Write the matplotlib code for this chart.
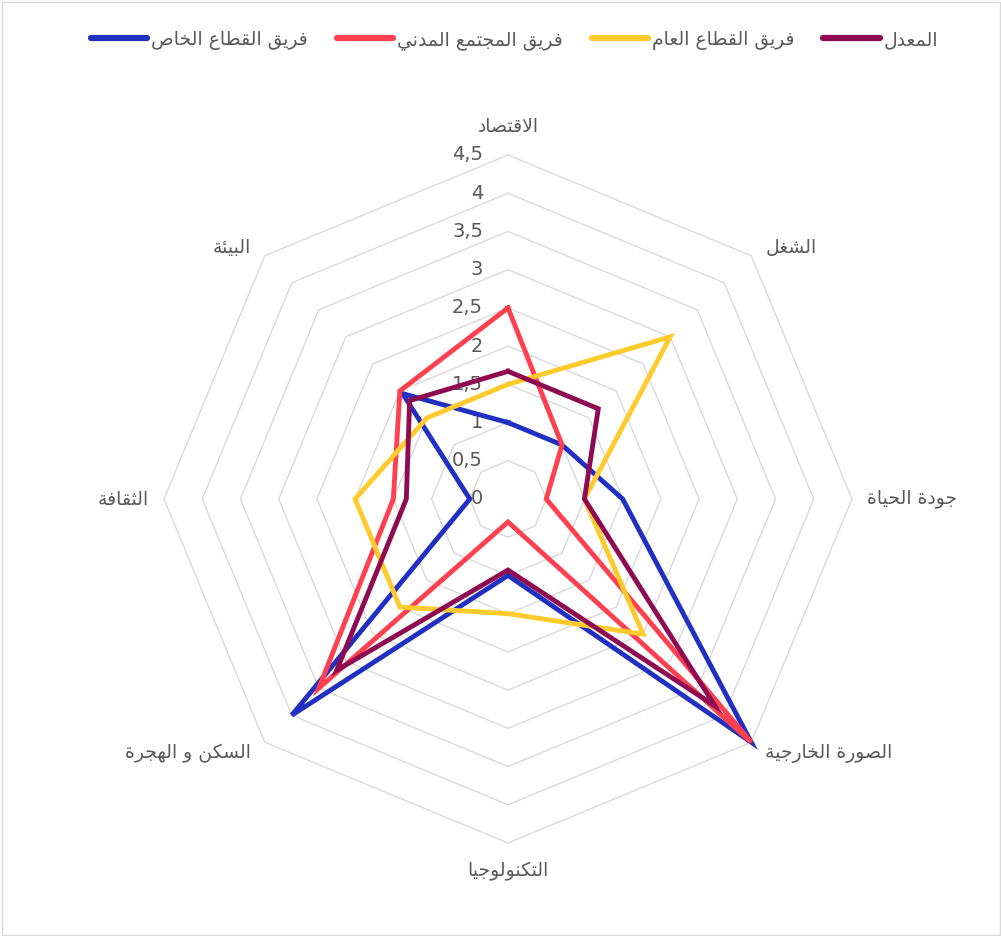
import numpy as np
import matplotlib
matplotlib.use("Agg")
import matplotlib.pyplot as plt
from matplotlib.lines import Line2D
from matplotlib.patches import Rectangle

# axis labels, clockwise from the top
categories = ["الاقتصاد", "الشغل", "جودة الحياة", "الصورة الخارجية",
              "التكنولوجيا", "السكن و الهجرة", "الثقافة", "البيئة"]

series_names = ["فريق القطاع الخاص", "فريق المجتمع المدني", "فريق القطاع العام", "المعدل"]
private = [1.0, 1.0, 1.5, 4.5, 1.0, 4.0, 0.5, 1.95]
civil = [2.5, 1.0, 0.5, 4.5, 0.3, 3.5, 1.5, 2.0]
public = [1.5, 3.0, 1.0, 2.5, 1.5, 2.0, 2.0, 1.5]
average = [1.67, 1.67, 1.0, 3.83, 0.93, 3.17, 1.33, 1.82]

ticks = [0, 0.5, 1, 1.5, 2, 2.5, 3, 3.5, 4, 4.5]
tick_labels = ["0", "0,5", "1", "1,5", "2", "2,5", "3", "3,5", "4", "4,5"]

colors = ["#2130C0", "#FF4050", "#FFCA2C", "#8E0B52"]

# matplotlib has no arabic shaping, so map letters to presentation forms by hand
DUAL = {'ب': 0xFE8F, 'ت': 0xFE95, 'ث': 0xFE99, 'ج': 0xFE9D, 'ح': 0xFEA1, 'خ': 0xFEA5,
        'س': 0xFEB1, 'ش': 0xFEB5, 'ص': 0xFEB9, 'ض': 0xFEBD, 'ط': 0xFEC1, 'ظ': 0xFEC5,
        'ع': 0xFEC9, 'غ': 0xFECD, 'ف': 0xFED1, 'ق': 0xFED5, 'ك': 0xFED9, 'ل': 0xFEDD,
        'م': 0xFEE1, 'ن': 0xFEE5, 'ه': 0xFEE9, 'ي': 0xFEF1, 'ئ': 0xFE89}
RIGHT = {'ا': 0xFE8D, 'ة': 0xFE93, 'د': 0xFEA9, 'ذ': 0xFEAB, 'ر': 0xFEAD, 'ز': 0xFEAF,
         'و': 0xFEED, 'ى': 0xFEEF, 'أ': 0xFE83, 'إ': 0xFE87, 'آ': 0xFE81}


def shape(s):
    chars = []
    i = 0
    while i < len(s):
        if s[i] == 'ل' and i + 1 < len(s) and s[i + 1] == 'ا':
            chars.append('LA')
            i += 2
        else:
            chars.append(s[i])
            i += 1
    out = []
    for k, c in enumerate(chars):
        prev = chars[k - 1] if k > 0 else None
        nxt = chars[k + 1] if k + 1 < len(chars) else None
        jp = prev in DUAL
        jn = c in DUAL and (nxt in DUAL or nxt in RIGHT or nxt == 'LA')
        if c == 'LA':
            out.append(chr(0xFEFC if jp else 0xFEFB))
        elif c in DUAL:
            out.append(chr(DUAL[c] + (3 if jp and jn else 1 if jp else 2 if jn else 0)))
        elif c in RIGHT:
            out.append(chr(RIGHT[c] + (1 if jp else 0)))
        else:
            out.append(c)
    return ''.join(reversed(out))


plt.rcParams['font.family'] = ['DejaVu Sans']
text_color = "#595959"

W, H = 1001, 936
fig = plt.figure(figsize=(W / 100, H / 100), dpi=100)
cx, cy, R = 508, 499, 344
ax = fig.add_axes([(cx - R) / W, (H - cy - R) / H, 2 * R / W, 2 * R / H], projection='polar')
ax.set_theta_zero_location('N')
ax.set_theta_direction(-1)
ax.set_ylim(0, 4.5)
ax.grid(False)
ax.set_xticks([])
ax.set_yticks([])
ax.spines['polar'].set_visible(False)
ax.patch.set_alpha(0)

n = len(categories)
angles = np.arange(n) * 2 * np.pi / n
closed = np.append(angles, angles[0])

# octagon grid
for t in ticks[1:]:
    ax.plot(closed, [t] * (n + 1), color="#D9D9D9", lw=1.0, zorder=1, clip_on=False)

for t, lbl in zip(ticks, tick_labels):
    ax.annotate(lbl, xy=(0, t), xytext=(-18, 0), textcoords='offset points',
                ha='right', va='center', fontsize=14, color=text_color, zorder=2)

for vals, col in zip([private, civil, public, average], colors):
    v = np.append(vals, vals[0])
    ax.plot(closed, v, color=col, lw=3.5, zorder=3, clip_on=False, solid_joinstyle='miter')

# category labels
label_pos = [
    (0, 4.5, 0, 14, 'center', 'bottom'),
    (1, 4.5, 10, -1, 'left', 'bottom'),
    (2, 4.5, 11, 0, 'left', 'center'),
    (3, 4.5, 10, -1, 'left', 'top'),
    (4, 4.5, 0, -14, 'center', 'top'),
    (5, 4.5, -10, -1, 'right', 'top'),
    (6, 4.5, -11, 0, 'right', 'center'),
    (7, 4.5, -10, -1, 'right', 'bottom'),
]
for i, r, dx, dy, ha, va in label_pos:
    ax.annotate(shape(categories[i]), xy=(angles[i], r), xytext=(dx, dy),
                textcoords='offset points', ha=ha, va=va, fontsize=13.5, color=text_color)

handles = [Line2D([0], [0], color=c, lw=4.5, solid_capstyle='round') for c in colors]
fig.legend(handles, [shape(s) for s in series_names], loc='center',
           bbox_to_anchor=(0.514, 1 - 40 / H), ncol=4, frameon=False, fontsize=13.5,
           handlelength=3.0, handletextpad=0.2, columnspacing=1.55, labelcolor=text_color)

fig.patches.append(Rectangle((1.5 / W, 1.5 / H), 1 - 3 / W, 1 - 3 / H, transform=fig.transFigure,
                             fill=False, edgecolor="#D9D9D9", lw=1.0))

fig.savefig("out.png", dpi=100)
